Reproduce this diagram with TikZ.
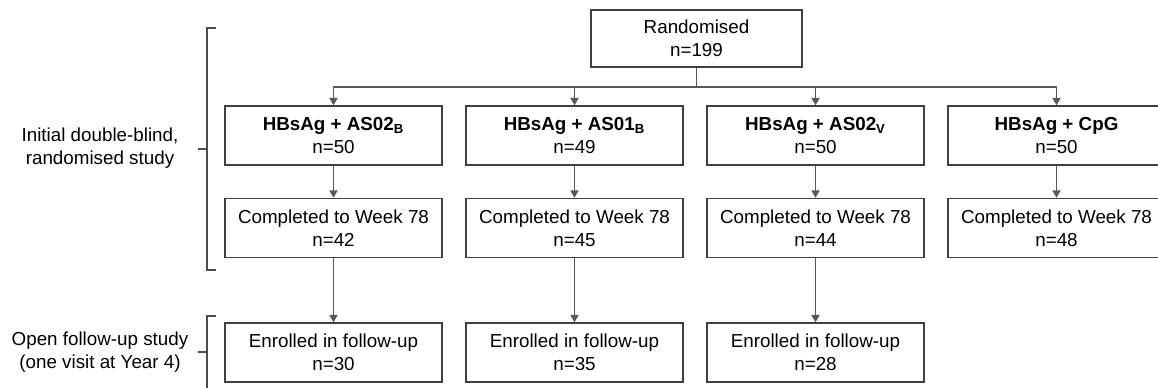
\documentclass[tikz,border=0pt]{standalone}
\usepackage{fontspec}
\setmainfont{Liberation Sans}
\usetikzlibrary{arrows.meta,positioning}

\begin{document}
\begin{tikzpicture}[
  x=0.02cm, y=-0.02cm,
  box/.style={draw=black!75, fill=white, line width=0.8pt, minimum width=4.34cm,
              minimum height=1.18cm, align=center, inner sep=1pt,
              font=\fontsize{10.7}{13}\selectfont},
  arm/.style={draw=black!65, line width=0.8pt},
  brace/.style={draw=black!70, line width=0.8pt},
  side/.style={align=center, font=\fontsize{10.7}{13}\selectfont},
  >={Triangle[width=4.6pt,length=4.2pt]}
]
\useasboundingbox (0,0) rectangle (1158,388);
\clip (0,0) rectangle (1158,388);

% Randomisation
\node[box, minimum width=4.22cm, minimum height=1.14cm] (rand) at (696.5,38.5) {Randomised\\n=199};

% Study arms
\node[box] (g1) at (333.5,135.5) {\textbf{HBsAg + AS02\textsubscript{B}}\\n=50};
\node[box] (g2) at (574.5,135.5) {\textbf{HBsAg + AS01\textsubscript{B}}\\n=49};
\node[box] (g3) at (815.5,135.5) {\textbf{HBsAg + AS02\textsubscript{V}}\\n=50};
\node[box] (g4) at (1056.5,135.5) {\textbf{HBsAg + CpG}\\n=50};

% Completed and follow-up rows
\foreach \i/\x/\n in {1/333.5/42, 2/574.5/45, 3/815.5/44, 4/1056.5/48}
  \node[box] (c\i) at (\x,228) {Completed to Week 78\\n=\n};
\foreach \i/\x/\n in {1/333.5/30, 2/574.5/35, 3/815.5/28}
  \node[box] (f\i) at (\x,352.5) {Enrolled in follow-up\\n=\n};

% Connectors
\coordinate (split) at (696.5,87);
\draw[arm] (rand.south) -- (split);
\foreach \i in {1,...,4}{
  \draw[arm,->] (split) -| (g\i.north);
  \draw[arm,->] (g\i.south) -- (c\i.north);
}
\foreach \i in {1,2,3}
  \draw[arm,->] (c\i.south) -- (f\i.north);

% Brackets on the left
\draw[brace] (216,28) -- (207,28) -- (207,270) -- (216,270);
\draw[brace] (207,149) -- (198,149);
\draw[brace] (216,316) -- (207,316) -- (207,400);
\draw[brace] (207,352) -- (198,352);

\node[side] (initial) at (100,148) {Initial double-blind,\\randomised study};
\node[side] (open) at (100,352) {Open follow-up study\\(one visit at Year 4)};

\end{tikzpicture}
\end{document}
